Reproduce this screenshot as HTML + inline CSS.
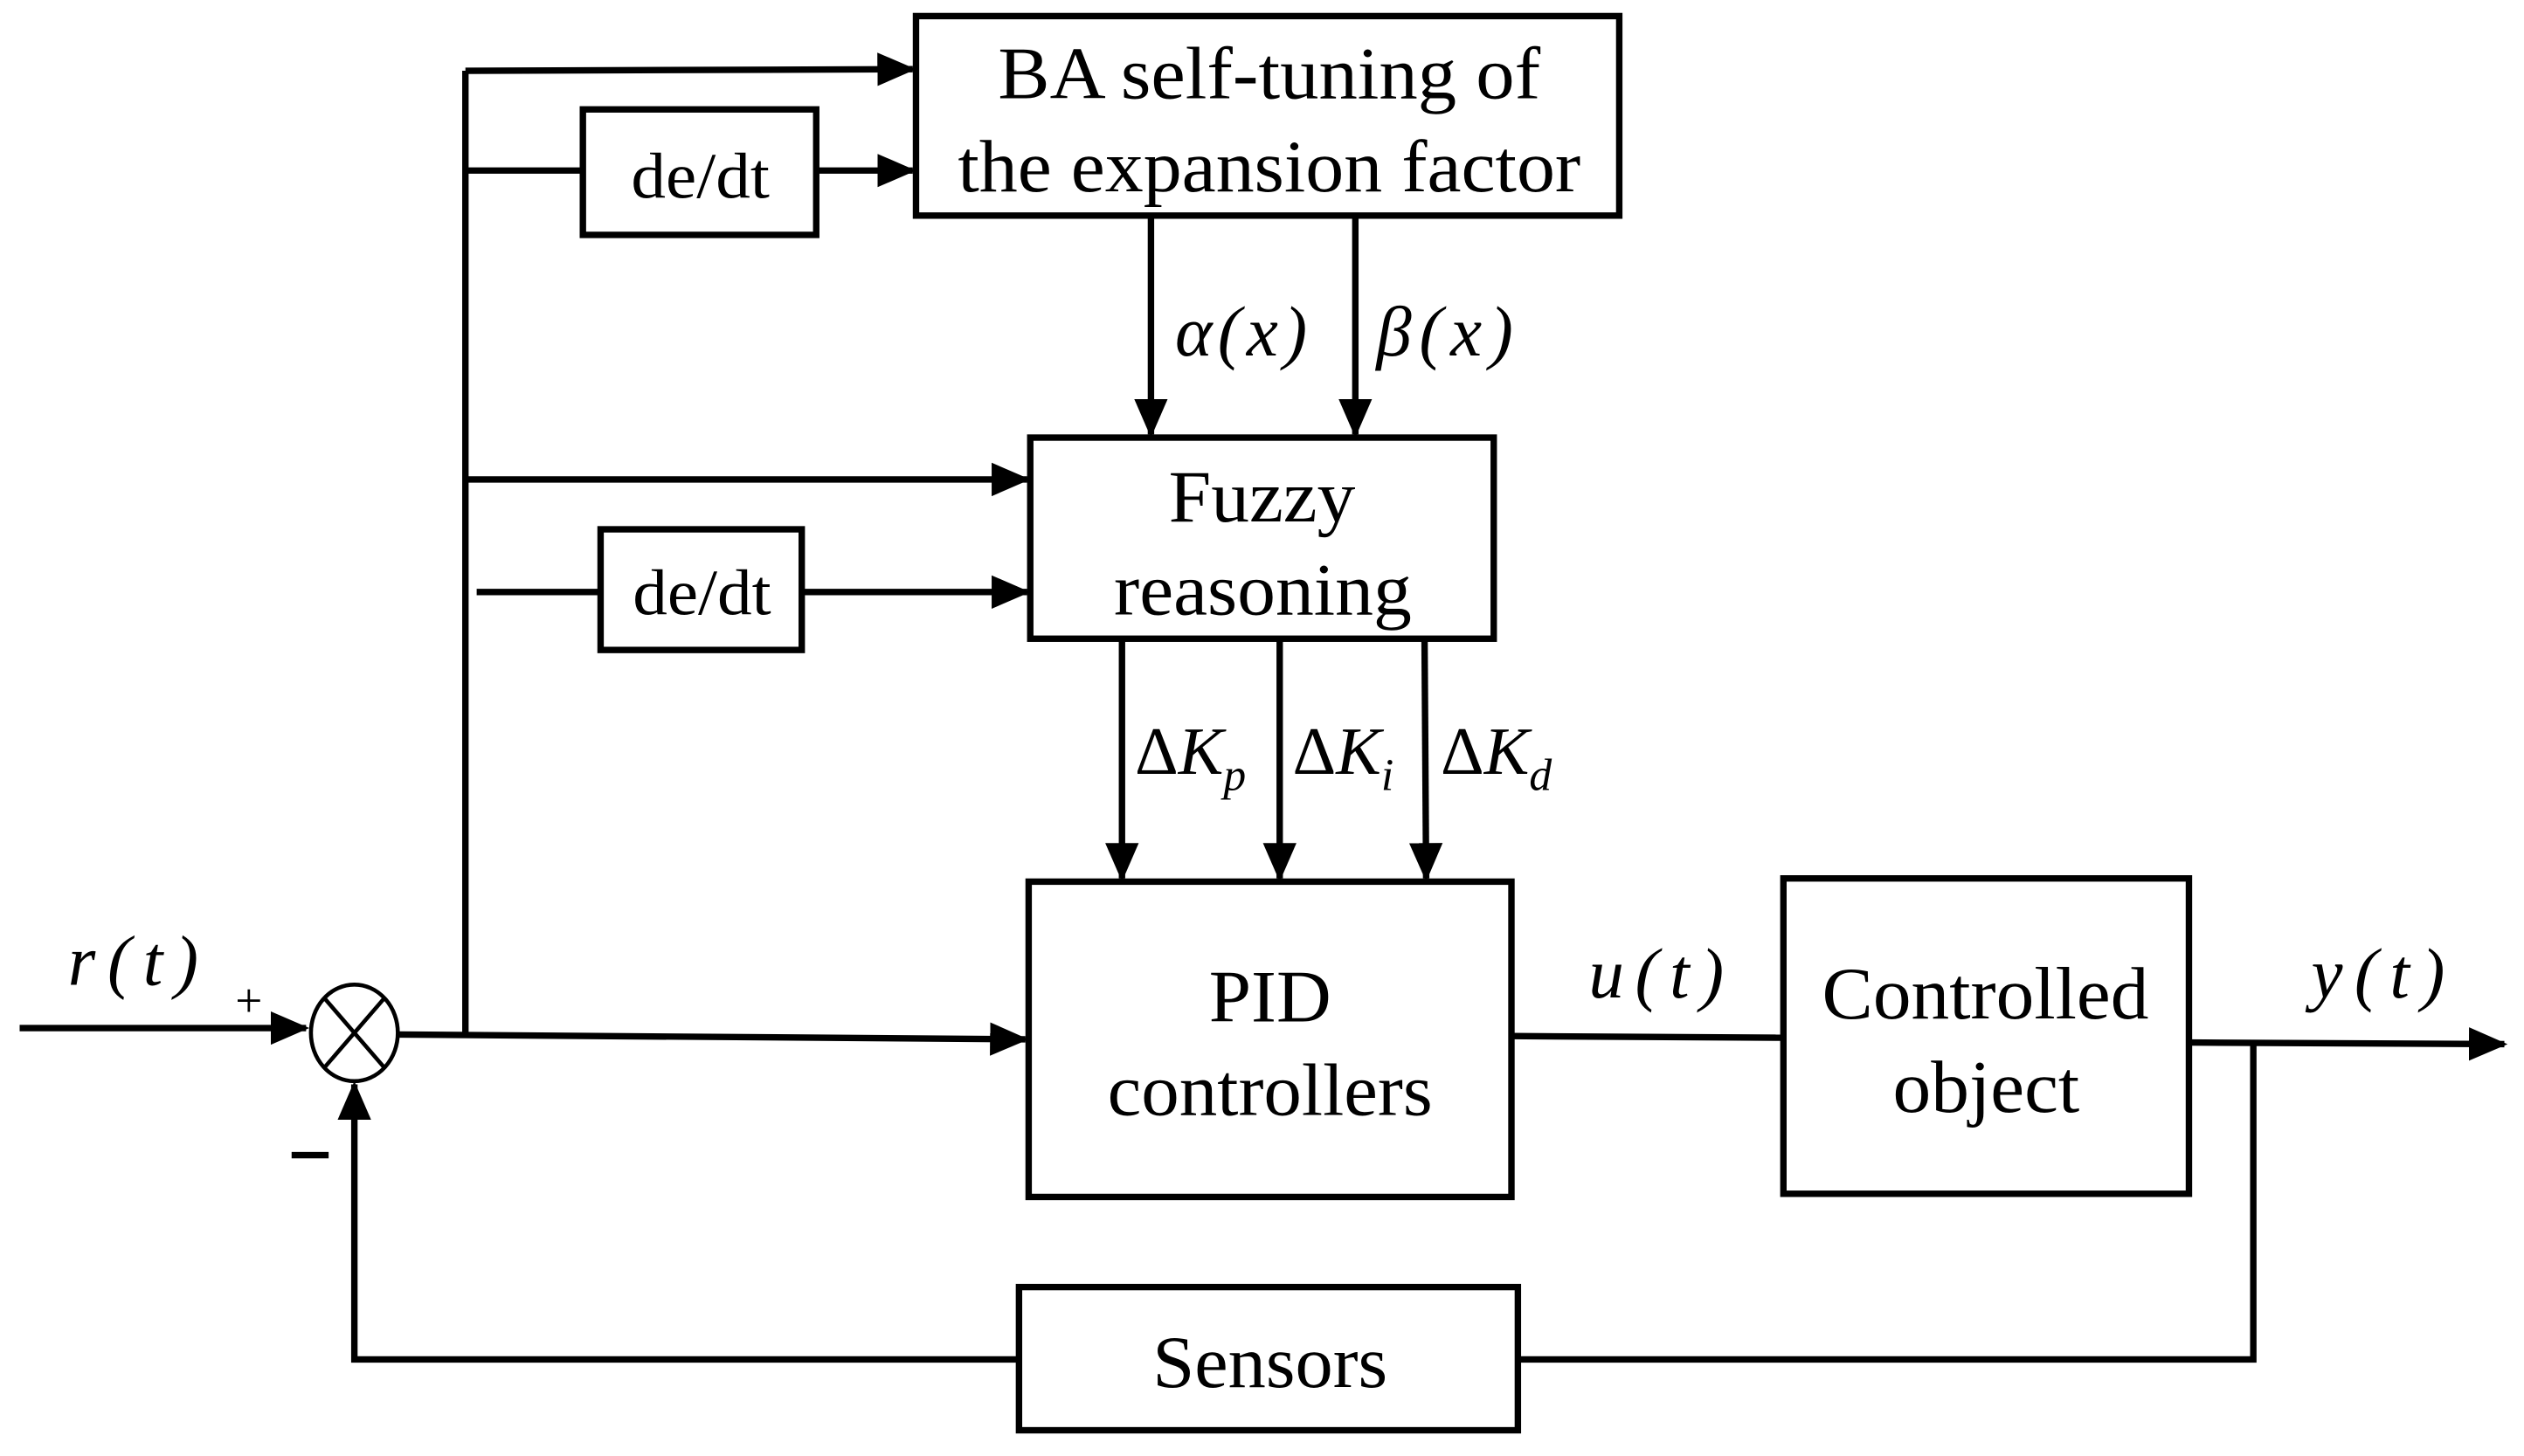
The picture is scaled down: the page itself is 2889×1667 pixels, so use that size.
<!DOCTYPE html>
<html><head><meta charset="utf-8"><style>
html,body{margin:0;padding:0;background:#fff;width:2889px;height:1667px;overflow:hidden}
svg{display:block}
text{font-family:"Liberation Serif",serif;fill:#000}
</style></head><body>
<svg width="2889" height="1667" viewBox="0 0 1568 905" xmlns="http://www.w3.org/2000/svg">
<defs>
<marker id="a" markerWidth="6" markerHeight="6" refX="5.5" refY="3" orient="auto" markerUnits="strokeWidth"><path d="M0,0.4 L6,3 L0,5.6 z" fill="#000"/></marker>
</defs>
<g fill="none" stroke="#000" stroke-width="4">
<rect x="569" y="10" width="437" height="124"/>
<rect x="362" y="68" width="145" height="78"/>
<rect x="640" y="272" width="288" height="125"/>
<rect x="373" y="329" width="125" height="75"/>
<rect x="639" y="548" width="300" height="196"/>
<rect x="1108" y="546" width="252" height="196"/>
<rect x="633" y="800" width="310" height="89"/>
</g>
<g fill="none" stroke="#000" stroke-width="4">
<line x1="289" y1="44" x2="289" y2="643"/>
<line x1="289" y1="44" x2="567" y2="43" marker-end="url(#a)"/>
<line x1="289" y1="106" x2="362" y2="106"/>
<line x1="507" y1="106" x2="567" y2="106" marker-end="url(#a)"/>
<line x1="289" y1="298" x2="638" y2="298" marker-end="url(#a)"/>
<line x1="296" y1="368" x2="373" y2="368"/>
<line x1="498" y1="368" x2="638" y2="368" marker-end="url(#a)"/>
<line x1="12" y1="639" x2="190" y2="639" marker-end="url(#a)"/>
<line x1="248" y1="643" x2="637" y2="646" marker-end="url(#a)"/>
<line x1="715" y1="134" x2="715" y2="270" marker-end="url(#a)"/>
<line x1="842" y1="134" x2="842" y2="270" marker-end="url(#a)"/>
<line x1="697" y1="397" x2="697" y2="546" marker-end="url(#a)"/>
<line x1="795" y1="397" x2="795" y2="546" marker-end="url(#a)"/>
<line x1="885" y1="397" x2="886" y2="546" marker-end="url(#a)"/>
<line x1="939" y1="644" x2="1108" y2="645"/>
<line x1="1360" y1="648" x2="1556" y2="649" marker-end="url(#a)"/>
<polyline points="1400,648 1400,845 943,845"/>
<polyline points="633,845 220,845 220,674" marker-end="url(#a)"/>
</g>
<g stroke="#000" stroke-width="2.5" fill="#fff">
<ellipse cx="220" cy="642" rx="27" ry="30"/>
<line x1="201" y1="620" x2="239" y2="664"/>
<line x1="239" y1="620" x2="201" y2="664"/>
</g>
<g font-size="46">
<text x="620" y="61" textLength="337" lengthAdjust="spacingAndGlyphs">BA self-tuning of</text>
<text x="595" y="119" textLength="387" lengthAdjust="spacingAndGlyphs">the expansion factor</text>
<text x="392" y="123" font-size="40" textLength="86" lengthAdjust="spacingAndGlyphs">de/dt</text>
<text x="726" y="324" textLength="116" lengthAdjust="spacingAndGlyphs">Fuzzy</text>
<text x="692" y="382" textLength="185" lengthAdjust="spacingAndGlyphs">reasoning</text>
<text x="393" y="382" font-size="40" textLength="86" lengthAdjust="spacingAndGlyphs">de/dt</text>
<text x="751" y="635" textLength="76" lengthAdjust="spacingAndGlyphs">PID</text>
<text x="688" y="693" textLength="202" lengthAdjust="spacingAndGlyphs">controllers</text>
<text x="1132" y="633" textLength="203" lengthAdjust="spacingAndGlyphs">Controlled</text>
<text x="1176" y="691" textLength="116" lengthAdjust="spacingAndGlyphs">object</text>
<text x="716" y="862" textLength="146" lengthAdjust="spacingAndGlyphs">Sensors</text>
</g>
<g font-size="44" font-style="italic">
<text x="42" y="612" textLength="81" lengthAdjust="spacing">r(t)</text>
<text x="730" y="221" textLength="82" lengthAdjust="spacing">α(x)</text>
<text x="855" y="221" textLength="85" lengthAdjust="spacing">β(x)</text>
<text x="987" y="620" textLength="84" lengthAdjust="spacing">u(t)</text>
<text x="1436" y="620" textLength="83" lengthAdjust="spacing">y(t)</text>
<text x="705" y="481" font-size="42"><tspan font-style="normal">Δ</tspan>K<tspan font-size="28" dy="10">p</tspan></text>
<text x="803" y="481" font-size="42"><tspan font-style="normal">Δ</tspan>K<tspan font-size="28" dy="10">i</tspan></text>
<text x="895" y="481" font-size="42"><tspan font-style="normal">Δ</tspan>K<tspan font-size="28" dy="10">d</tspan></text>
</g>
<text x="146" y="632" font-size="30">+</text>
<rect x="181" y="716" width="23" height="4" fill="#000"/>
</svg>
</body></html>
